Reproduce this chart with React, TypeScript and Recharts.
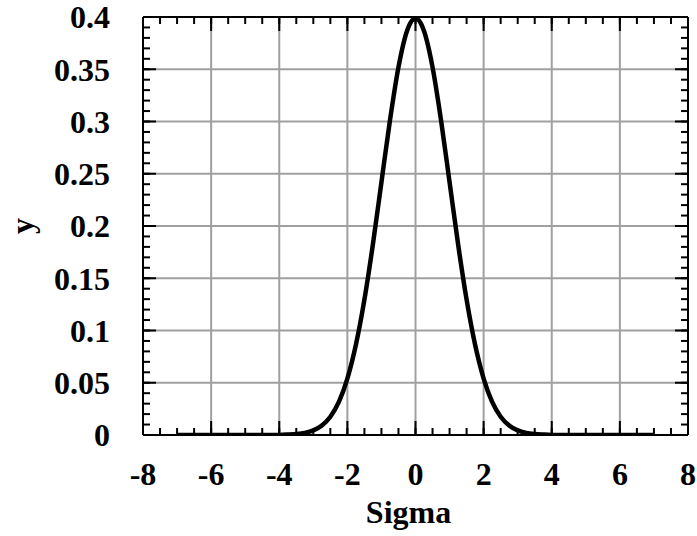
import React from "react";
import { LineChart, Line, XAxis, YAxis, CartesianGrid } from "recharts";

const sigma = [-7, -6, -5, -4, -3.75, -3.5, -3.25, -3, -2.75, -2.5, -2.25, -2, -1.75, -1.5, -1.25, -1, -0.75, -0.5, -0.25, 0, 0.25, 0.5, 0.75, 1, 1.25, 1.5, 1.75, 2, 2.25, 2.5, 2.75, 3, 3.25, 3.5, 3.75, 4, 5, 6, 7];
const yValues = [0, 0, 0, 0.0001, 0.0004, 0.0009, 0.002, 0.0044, 0.0091, 0.0175, 0.0317, 0.054, 0.0863, 0.1295, 0.1826, 0.242, 0.3011, 0.3521, 0.3867, 0.3989, 0.3867, 0.3521, 0.3011, 0.242, 0.1826, 0.1295, 0.0863, 0.054, 0.0317, 0.0175, 0.0091, 0.0044, 0.002, 0.0009, 0.0004, 0.0001, 0, 0, 0];

const xTicks = [-8, -6, -4, -2, 0, 2, 4, 6, 8];
const xMinorTicks = [-8, -7.5, -7, -6.5, -6, -5.5, -5, -4.5, -4, -3.5, -3, -2.5, -2, -1.5, -1, -0.5, 0, 0.5, 1, 1.5, 2, 2.5, 3, 3.5, 4, 4.5, 5, 5.5, 6, 6.5, 7, 7.5, 8];
const yTicks = [0, 0.05, 0.1, 0.15, 0.2, 0.25, 0.3, 0.35, 0.4];
const yMinorTicks = [0, 0.01, 0.02, 0.03, 0.04, 0.05, 0.06, 0.07, 0.08, 0.09, 0.1, 0.11, 0.12, 0.13, 0.14, 0.15, 0.16, 0.17, 0.18, 0.19, 0.2, 0.21, 0.22, 0.23, 0.24, 0.25, 0.26, 0.27, 0.28, 0.29, 0.3, 0.31, 0.32, 0.33, 0.34, 0.35, 0.36, 0.37, 0.38, 0.39, 0.4];

const data = sigma.map((s, i) => ({ s, y: yValues[i] }));

const font = "'Liberation Serif', 'Times New Roman', serif";
const tickStyle = { fill: "#000", fontFamily: font, fontWeight: 700, fontSize: 32 };
const lineStyle = { stroke: "#000", strokeWidth: 2 };
const T = 0.01;
const blank = () => "";

export default function App() {
  return (
    <div style={{ position: "absolute", left: 0, top: 0, background: "#fff" }}>
      <LineChart width={697} height={536} data={data} margin={{ left: 143, right: 9, top: 17, bottom: 101 }}>
        <CartesianGrid stroke="#a0a0a0" strokeWidth={2} />
        {/* label axes */}
        <XAxis
          dataKey="s"
          type="number"
          domain={[-8, 8]}
          ticks={xTicks}
          interval={0}
          height={T}
          axisLine={false}
          tickLine={false}
          tickSize={0}
          tickMargin={27}
          tick={tickStyle}
          allowDataOverflow
          label={(p: any) => {
            const vb = p.viewBox || {};
            return (
              <text x={(vb.x || 0) + (vb.width || 0) / 2 - 7} y={(vb.y || 0) + 88} textAnchor="middle" fontFamily={font} fontWeight={700} fontSize={32} fill="#000">
                Sigma
              </text>
            );
          }}
        />
        <YAxis
          type="number"
          domain={[0, 0.4]}
          ticks={yTicks}
          interval={0}
          width={T}
          axisLine={false}
          tickLine={false}
          tickSize={0}
          tickMargin={33}
          tick={tickStyle}
          allowDataOverflow
          label={(p: any) => {
            const vb = p.viewBox || {};
            const cx = (vb.x || 0) - 121;
            const cy = (vb.y || 0) + (vb.height || 0) / 2;
            return (
              <text x={cx} y={cy} transform={`rotate(-90 ${cx} ${cy})`} textAnchor="middle" dominantBaseline="central" fontFamily={font} fontWeight={700} fontSize={32} fill="#000">
                y
              </text>
            );
          }}
        />
        {/* minor ticks */}
        <XAxis xAxisId="bm" dataKey="s" type="number" domain={[-8, 8]} ticks={xMinorTicks} interval={0} height={T} mirror tickFormatter={blank} axisLine={false} tickLine={lineStyle} tickSize={7} allowDataOverflow />
        <XAxis xAxisId="tm" dataKey="s" orientation="top" type="number" domain={[-8, 8]} ticks={xMinorTicks} interval={0} height={T} mirror tickFormatter={blank} axisLine={false} tickLine={lineStyle} tickSize={7} allowDataOverflow />
        <YAxis yAxisId="lm" type="number" domain={[0, 0.4]} ticks={yMinorTicks} interval={0} width={T} mirror tickFormatter={blank} axisLine={false} tickLine={lineStyle} tickSize={7} allowDataOverflow />
        <YAxis yAxisId="rm" orientation="right" type="number" domain={[0, 0.4]} ticks={yMinorTicks} interval={0} width={T} mirror tickFormatter={blank} axisLine={false} tickLine={lineStyle} tickSize={7} allowDataOverflow />
        {/* major ticks + border */}
        <XAxis xAxisId="bM" dataKey="s" type="number" domain={[-8, 8]} ticks={xTicks} interval={0} height={T} mirror tickFormatter={blank} axisLine={lineStyle} tickLine={lineStyle} tickSize={14} allowDataOverflow />
        <XAxis xAxisId="tM" dataKey="s" orientation="top" type="number" domain={[-8, 8]} ticks={xTicks} interval={0} height={T} mirror tickFormatter={blank} axisLine={lineStyle} tickLine={lineStyle} tickSize={14} allowDataOverflow />
        <YAxis yAxisId="lM" type="number" domain={[0, 0.4]} ticks={yTicks} interval={0} width={T} mirror tickFormatter={blank} axisLine={lineStyle} tickLine={lineStyle} tickSize={13} allowDataOverflow />
        <YAxis yAxisId="rM" orientation="right" type="number" domain={[0, 0.4]} ticks={yTicks} interval={0} width={T} mirror tickFormatter={blank} axisLine={lineStyle} tickLine={lineStyle} tickSize={13} allowDataOverflow />
        <Line xAxisId="bm" yAxisId="lm" dataKey="y" stroke="none" dot={false} isAnimationActive={false} />
        <Line xAxisId="tm" yAxisId="rm" dataKey="y" stroke="none" dot={false} isAnimationActive={false} />
        <Line xAxisId="bM" yAxisId="lM" dataKey="y" stroke="none" dot={false} isAnimationActive={false} />
        <Line xAxisId="tM" yAxisId="rM" dataKey="y" stroke="none" dot={false} isAnimationActive={false} />
        <Line dataKey="y" type="monotone" stroke="#000" strokeWidth={4.5} dot={false} isAnimationActive={false} />
      </LineChart>
    </div>
  );
}
